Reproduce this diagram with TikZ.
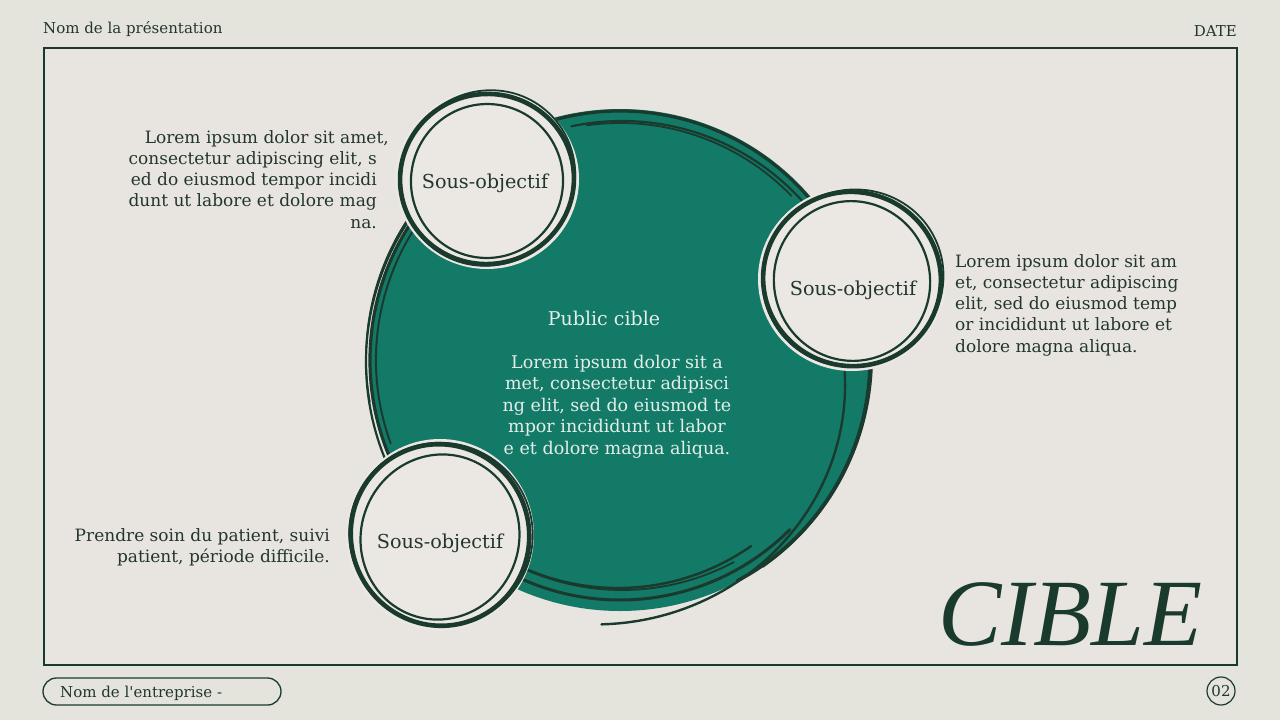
\documentclass[tikz,border=0pt]{standalone}
\usepackage{fontspec}
\setmainfont{DejaVu Serif}
\newfontfamily\titlefont{Liberation Serif}
\definecolor{bg}{HTML}{E4E4DD}
\definecolor{inner}{HTML}{E8E5E0}
\definecolor{dk}{HTML}{1A3A2E}
\definecolor{txt}{HTML}{22362D}
\definecolor{teal}{HTML}{137A68}
\definecolor{lite}{HTML}{EBE8E3}
\definecolor{ctxt}{HTML}{E4EEE8}
\begin{document}
\begin{tikzpicture}[x=1pt,y=-1pt,
  body/.style={inner sep=0pt,text=txt,font=\fontsize{17}{21.5}\selectfont},
  cbody/.style={inner sep=0pt,text=ctxt,font=\fontsize{17.5}{21.5}\selectfont},
  sub/.style={inner sep=0pt,text=txt,font=\fontsize{19.2}{22}\selectfont},
  small/.style={inner sep=0pt,text=txt,font=\fontsize{15}{18}\selectfont},
  sk/.style={draw=dk,line cap=round,line join=round}]
\useasboundingbox (0,0) rectangle (1280,720);
\fill[bg] (0,0) rectangle (1280,720);
\draw[dk,line width=1.5,fill=inner] (44,48) rectangle (1237,665);

% header / footer
\node[small,anchor=base west] (title) at (43,34) {Nom de la présentation};
\node[small,anchor=base east] (date) at (1237,36) {DATE};
\draw[dk,line width=1.3,rounded corners=13.5] (43,678) rectangle (281,705);
\node[small,anchor=base west] (company) at (60,697) {Nom de l\textquotesingle entreprise -};
\node[small,draw=dk,line width=1.2,circle,minimum size=28,inner sep=0pt] (page) at (1221,691) {02};

% big circle
\fill[teal] (620,360) circle (251);
% left strokes
\draw[sk,line width=3.2] (620,360) ++(148:250) arc[start angle=148,end angle=232,radius=250];
\draw[sk,line width=2.2] (622,362) ++(140:256) arc[start angle=140,end angle=215,radius=256];
\draw[sk,line width=2] (620,360) ++(160:244) arc[start angle=160,end angle=250,radius=244];
\draw[sk,line width=1.6] (618,358) ++(170:252) arc[start angle=170,end angle=240,radius=252];
% top strokes
\draw[sk,line width=3.2] (620,360) ++(250:249) arc[start angle=250,end angle=322,radius=249];
\draw[sk,line width=2.2] (622,364) ++(258:243) arc[start angle=258,end angle=320,radius=243];
\draw[sk,line width=1.8] (620,361) ++(262:238) arc[start angle=262,end angle=316,radius=238];
% right / bottom strokes
\draw[sk,line width=3.6] (620,360) ++(-6:250) arc[start angle=-6,end angle=62,radius=250];
\draw[sk,line width=2] (616,357) ++(-4:256) arc[start angle=-4,end angle=55,radius=256];
\draw[sk,line width=2.4] plot[domain=3:94,samples=50] ({620+(225+(\x-3)/91*40)*cos(\x)},{360+(225+(\x-3)/91*40)*sin(\x)});
\draw[sk,line width=3] (620,360) ++(45:240) arc[start angle=45,end angle=125,radius=240];
\draw[sk,line width=2.4] (618,356) ++(55:232) arc[start angle=55,end angle=122,radius=232];
\draw[sk,line width=1.8] (622,352) ++(62:238) arc[start angle=62,end angle=118,radius=238];

% small circles
\foreach \n/\cx/\cy/\ox/\oy/\ix/\iy/\rot in {a/487/179/88/86/76/77/10, b/852/279/90/88/78/80/-15, c/440/535/90/92/79/83/20}{
  \fill[lite] (\cx,\cy) ellipse[x radius=\ox+4,y radius=\oy+4];
  \draw[sk,line width=4.6,rotate around={\rot:(\cx,\cy)}] (\cx,\cy) ellipse[x radius=\ox-1,y radius=\oy-1];
  \draw[sk,line width=1.8,rotate around={\rot+40:(\cx+1,\cy-1)}] (\cx+1,\cy-1) ellipse[x radius=\ox+1,y radius=\oy];
  \draw[sk,line width=2.2,rotate around={-\rot:(\cx,\cy+2)}] (\cx,\cy+2) ellipse[x radius=\ix,y radius=\iy];
}
\node[sub,anchor=base] (suba) at (485,188) {Sous-objectif};
\node[sub,anchor=base] (subb) at (853,295) {Sous-objectif};
\node[sub,anchor=base] (subc) at (440,548) {Sous-objectif};

% centre texts
\node[cbody,anchor=base,font=\fontsize{19}{22}\selectfont] (pc) at (604,325) {Public cible};
\foreach \t [count=\i] in {{Lorem ipsum dolor sit a},{met, consectetur adipisci},{ng elit, sed do eiusmod te},{mpor incididunt ut labor},{e et dolore magna aliqua.}}
  \node[cbody,anchor=base] (cp\i) at (617,368+21.5*\i-21.5) {\t};

% top-left paragraph
\node[body,anchor=base east] (tl1) at (389,143) {Lorem ipsum dolor sit amet,};
\foreach \t [count=\i from 2] in {{consectetur adipiscing elit, s},{ed do eiusmod tempor incidi},{dunt ut labore et dolore mag},{na.}}
  \node[body,anchor=base east] (tl\i) at (377,143+21.3*\i-21.3) {\t};

% right paragraph
\foreach \t [count=\i] in {{Lorem ipsum dolor sit am},{et, consectetur adipiscing},{elit, sed do eiusmod temp},{or incididunt ut labore et},{dolore magna aliqua.}}
  \node[body,anchor=base west] (rp\i) at (955,267+21.3*\i-21.3) {\t};

% bottom-left paragraph
\node[body,anchor=base east] (bl1) at (330,541) {Prendre soin du patient, suivi};
\node[body,anchor=base east] (bl2) at (330,562) {patient, période difficile.};

% big title
\node[inner sep=0pt,anchor=base west,text=dk,font=\titlefont\itshape\fontsize{95}{95}\selectfont] (cible) at (938,645) {CIBLE};
\end{tikzpicture}
\end{document}
